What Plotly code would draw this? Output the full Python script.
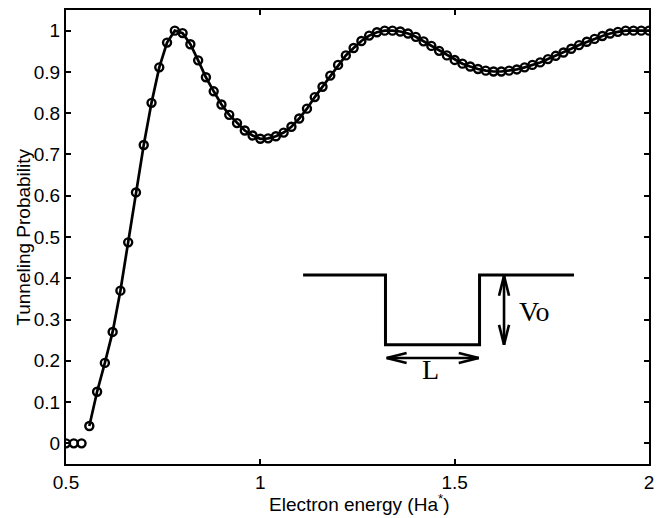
import plotly.graph_objects as go

# ---- data ----
energy = [0.50, 0.52, 0.54, 0.56, 0.58, 0.60, 0.62, 0.64, 0.66, 0.68,
          0.70, 0.72, 0.74, 0.76, 0.78, 0.80, 0.82, 0.84, 0.86, 0.88,
          0.90, 0.92, 0.94, 0.96, 0.98, 1.00, 1.02, 1.04, 1.06, 1.08,
          1.10, 1.12, 1.14, 1.16, 1.18, 1.20, 1.22, 1.24, 1.26, 1.28,
          1.30, 1.32, 1.34, 1.36, 1.38, 1.40, 1.42, 1.44, 1.46, 1.48,
          1.50, 1.52, 1.54, 1.56, 1.58, 1.60, 1.62, 1.64, 1.66, 1.68,
          1.70, 1.72, 1.74, 1.76, 1.78, 1.80, 1.82, 1.84, 1.86, 1.88,
          1.90, 1.92, 1.94, 1.96, 1.98, 2.00]

prob_numeric = [0.0, 0.0, 0.0, 0.042, 0.125, 0.195, 0.270, 0.370, 0.487, 0.608,
                0.723, 0.825, 0.911, 0.971, 1.0, 0.994, 0.967, 0.928, 0.887, 0.853,
                0.821, 0.796, 0.776, 0.758, 0.746, 0.738, 0.739, 0.744, 0.753, 0.767,
                0.787, 0.811, 0.839, 0.864, 0.891, 0.917, 0.940, 0.958, 0.975, 0.988,
                0.996, 1.0, 1.0, 0.998, 0.993, 0.985, 0.974, 0.963, 0.951, 0.940,
                0.929, 0.920, 0.913, 0.907, 0.903, 0.901, 0.901, 0.903, 0.906, 0.911,
                0.917, 0.923, 0.931, 0.939, 0.947, 0.956, 0.965, 0.973, 0.980, 0.987,
                0.993, 0.997, 1.0, 1.0, 1.0, 1.0]

# analytic curve starts where transmission becomes non-zero
line_start = 3
energy_line = energy[line_start:]
prob_line = prob_numeric[line_start:]

x_ticks = [0.5, 1, 1.5, 2]
x_tick_text = ["0.5", "1", "1.5", "2"]
y_ticks = [0, 0.1, 0.2, 0.3, 0.4, 0.5, 0.6, 0.7, 0.8, 0.9, 1.0]
y_tick_text = ["0", "0.1", "0.2", "0.3", "0.4", "0.5", "0.6", "0.7", "0.8", "0.9", "1"]

# inset: potential well sketch (in axis units)
well_x = [1.11, 1.322, 1.322, 1.564, 1.564, 1.807]
well_y = [0.408, 0.408, 0.239, 0.239, 0.408, 0.408]
L_arrow_x = [1.325, 1.562]
L_arrow_y = 0.207
V_arrow_x = 1.627
V_arrow_y = [0.406, 0.239]

FONT = "Liberation Sans, Arial, Helvetica, sans-serif"
SERIF = "Liberation Serif, Times New Roman, serif"

fig = go.Figure()
fig.add_trace(go.Scatter(x=energy_line, y=prob_line, mode="lines",
                         line=dict(color="black", width=2.7), showlegend=False))
fig.add_trace(go.Scatter(x=energy, y=prob_numeric, mode="markers",
                         marker=dict(symbol="circle-open", size=8, color="black",
                                     line=dict(width=2.4)),
                         showlegend=False))

shapes = []
path = "M " + " L ".join(f"{x} {y}" for x, y in zip(well_x, well_y))
shapes.append(dict(type="path", path=path, xref="x", yref="y",
                   line=dict(color="black", width=3)))

# arrow helpers
hx = 20 * 1.5 / 583   # head length along x (20 px)
hy = 5 * 1.1 / 456    # half width along y (5 px)
vy = 20 * 1.1 / 456
vx = 5 * 1.5 / 583
lw = 2.6
# L arrow
shapes.append(dict(type="line", x0=L_arrow_x[0], x1=L_arrow_x[1], y0=L_arrow_y, y1=L_arrow_y,
                   line=dict(color="black", width=lw)))
for sgn in (1, -1):
    shapes.append(dict(type="line", x0=L_arrow_x[0], y0=L_arrow_y, x1=L_arrow_x[0] + hx,
                       y1=L_arrow_y + sgn * hy, line=dict(color="black", width=lw)))
    shapes.append(dict(type="line", x0=L_arrow_x[1], y0=L_arrow_y, x1=L_arrow_x[1] - hx,
                       y1=L_arrow_y + sgn * hy, line=dict(color="black", width=lw)))
# Vo arrow
shapes.append(dict(type="line", x0=V_arrow_x, x1=V_arrow_x, y0=V_arrow_y[0], y1=V_arrow_y[1],
                   line=dict(color="black", width=lw)))
for sgn in (1, -1):
    shapes.append(dict(type="line", x0=V_arrow_x, y0=V_arrow_y[0], x1=V_arrow_x + sgn * vx,
                       y1=V_arrow_y[0] - vy, line=dict(color="black", width=lw)))
    shapes.append(dict(type="line", x0=V_arrow_x, y0=V_arrow_y[1], x1=V_arrow_x + sgn * vx,
                       y1=V_arrow_y[1] + vy, line=dict(color="black", width=lw)))

annotations = [
    dict(text="L", x=1.438, y=0.178, xref="x", yref="y", showarrow=False,
         font=dict(family=SERIF, size=28, color="black"), xanchor="center", yanchor="middle"),
    dict(text="Vo", x=1.705, y=0.319, xref="x", yref="y", showarrow=False,
         font=dict(family=SERIF, size=28, color="black"), xanchor="center", yanchor="middle"),
    dict(text="Electron energy (Ha<sup>*</sup>)", x=0.5026, y=-0.087, xref="paper", yref="paper",
         showarrow=False, font=dict(family=FONT, size=19, color="black"),
         xanchor="center", yanchor="middle"),
    dict(text="Tunneling Probability", x=-0.0743, y=0.5, xref="paper", yref="paper",
         showarrow=False, textangle=-90, font=dict(family=FONT, size=19, color="black"),
         xanchor="center", yanchor="middle"),
]

axis_common = dict(ticks="inside", ticklen=5, tickwidth=2, tickcolor="black",
                   showline=True, linewidth=2, linecolor="black", mirror="ticks",
                   showgrid=False, zeroline=False,
                   tickfont=dict(family=FONT, size=19, color="black"))

fig.update_layout(
    width=662, height=518,
    margin=dict(l=66, r=13, t=8, b=54),
    paper_bgcolor="white", plot_bgcolor="white",
    xaxis=dict(range=[0.5, 2.0], tickvals=x_ticks, ticktext=x_tick_text,
               ticklabelstandoff=0, **axis_common),
    yaxis=dict(range=[-0.05, 1.05], tickvals=y_ticks, ticktext=y_tick_text,
               ticklabelstandoff=0, **axis_common),
    shapes=shapes,
    annotations=annotations,
    showlegend=False,
)

fig.write_html("out.html", config={"displayModeBar": False},
               post_script="document.body.style.margin='0';document.body.style.padding='0';")
